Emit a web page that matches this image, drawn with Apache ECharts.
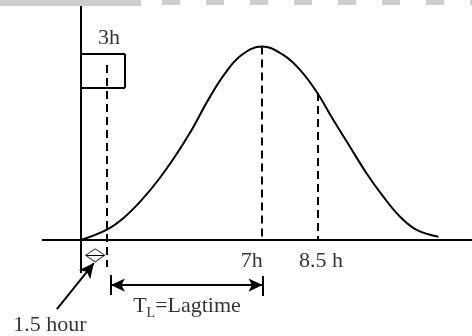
<!DOCTYPE html>
<html>
<head>
<meta charset="utf-8">
<script src="https://cdn.jsdelivr.net/npm/echarts@6/dist/echarts.min.js"></script>
<style>
  html, body { margin: 0; padding: 0; background: #fff; }
  #hydro { width: 472px; height: 336px; }
</style>
</head>
<body>
<div id="hydro"></div>
<script>
// hydrograph curve (time in schematic hours, flow in % of peak)
var hours = [0, 1.02, 1.70, 2.35, 2.99, 3.63, 4.28, 4.92, 5.57, 6.21, 7.0, 7.82, 8.47, 9.11, 9.76, 10.40, 11.04, 11.69, 12.34, 12.98, 13.82];
var flow = [0, 5.5, 12.0, 20.7, 31.0, 43.0, 56.8, 72.4, 86.1, 95.6, 100, 95.6, 87.9, 76.6, 62.0, 48.2, 34.5, 22.4, 12.0, 5.2, 1.7];

// dashed guide lines: x position, top, bottom
var guideX = [1.0, 7.0, 9.17];
var guideTop = [90.4, 100, 76.0];
var guideBottom = [-14, 0, 0];

// rainfall box (3h)
var boxX = [0, 1.70];
var boxY = [78.6, 96.1];

// annotation texts and where they sit
var noteText = ['3h', '7h', '8.5 h', '1.5 hour', '{a|T}{s|L}{a|=Lagtime}'];
var noteX = [1.08, 6.6, 9.28, -1.2, 4.1];
var noteY = [104.4, -10.9, -10.9, -44.2, -34.3];

var chartDom = document.getElementById('hydro');
var myChart = echarts.init(chartDom);

var black = '#000';
var serif = 'Liberation Serif';

function seg(x1, y1, x2, y2, style, s1, s2, size) {
    return [
        { coord: [x1, y1], symbol: s1 || 'none', symbolSize: size, lineStyle: style },
        { coord: [x2, y2], symbol: s2 || 'none', symbolSize: size, lineStyle: style }
    ];
}

var solid = { color: black, width: 2, type: 'solid' };
var dashed = { color: black, width: 2, type: [8, 5] };

var lines = [];
// axes
lines.push(seg(-1.51, 0, 15.12, 0, solid));
lines.push(seg(0, -17.1, 0, 120.9, solid));
// guides
for (var i = 0; i < guideX.length; i++) {
    lines.push(seg(guideX[i], guideTop[i], guideX[i], guideBottom[i], dashed));
}
// box
lines.push(seg(boxX[0], boxY[1], boxX[1], boxY[1], solid));
lines.push(seg(boxX[1], boxY[1], boxX[1], boxY[0], solid));
lines.push(seg(boxX[0], boxY[0], boxX[1], boxY[0], solid));
// lag time arrow with end bars
lines.push(seg(1.16, -23.3, 7.02, -23.3, solid, 'arrow', 'arrow', [10, 14]));
lines.push(seg(1.16, -18.1, 1.16, -28.4, solid));
lines.push(seg(7.02, -18.6, 7.02, -28.9, solid));
// pointer from "1.5 hour"
lines.push(seg(-0.93, -35.7, 0.5, -11.9, solid, 'none', 'arrow', [11, 15]));
// little line through the diamond
lines.push(seg(0.2, -7.9, 0.9, -7.9, { color: black, width: 1, type: 'solid' }));

var option = {
    animation: false,
    grid: { left: 0, right: 0, top: 0, bottom: 0 },
    xAxis: { type: 'value', min: -3.13, max: 15.12, show: false },
    yAxis: { type: 'value', min: -49.6, max: 124, show: false },
    graphic: (function () {
        var g = [{ type: 'rect', shape: { x: 0, y: 0, width: 141, height: 6 }, style: { fill: '#cdcdcd' } }];
        for (var k = 0; k < 8; k++) {
            g.push({ type: 'rect', shape: { x: 162 + k * 44, y: 0, width: 18, height: 5 }, style: { fill: '#cdcdcd' } });
        }
        return g;
    })(),
    series: [{
        type: 'line',
        data: hours.map(function (h, i) { return [h, flow[i]]; }),
        smooth: 0.4,
        showSymbol: false,
        lineStyle: { color: black, width: 2 },
        markLine: {
            silent: true,
            animation: false,
            label: { show: false },
            emphasis: { disabled: true },
            data: lines
        }
    }, {
        type: 'scatter',
        data: [[0.55, -7.9]],
        symbol: 'diamond',
        symbolSize: [19, 13],
        itemStyle: { color: '#fff', borderColor: black, borderWidth: 1 },
        silent: true
    }, {
        type: 'scatter',
        data: noteX.map(function (x, i) { return [x, noteY[i]]; }),
        symbolSize: 1,
        itemStyle: { color: 'rgba(0,0,0,0)' },
        silent: true,
        label: {
            show: true,
            position: 'inside',
            color: black,
            fontFamily: serif,
            fontSize: 22,
            formatter: function (p) { return noteText[p.dataIndex]; },
            rich: {
                a: { fontFamily: serif, fontSize: 22, color: black, lineHeight: 28 },
                s: { fontFamily: serif, fontSize: 14, color: black, lineHeight: 28, verticalAlign: 'bottom', padding: [11, 0, 0, 0] }
            }
        }
    }]
};

option && myChart.setOption(option);
</script>
</body>
</html>
